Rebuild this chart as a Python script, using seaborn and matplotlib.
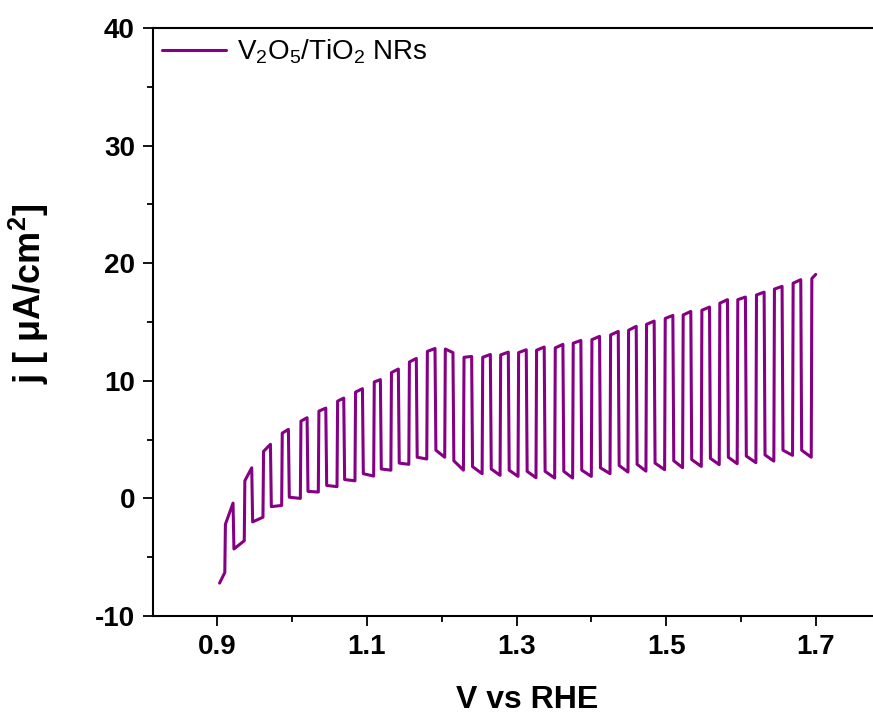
import numpy as np
import pandas as pd
import seaborn as sns
from matplotlib import pyplot as plt

# chopped-light LSV, values
# start of the scan (before the first light pulse)
v_start = [0.903]
j_start = [-7.2]

# potential where the light is switched on / off for each pulse
v_on = [0.910, 0.936, 0.961, 0.986, 1.011, 1.035, 1.060, 1.084, 1.109, 1.132,
        1.156, 1.180, 1.204, 1.229, 1.254, 1.278, 1.302, 1.326, 1.351, 1.375,
        1.400, 1.425, 1.449, 1.473, 1.498, 1.522, 1.547, 1.571, 1.595, 1.620,
        1.644, 1.669, 1.694]
v_off = [0.921, 0.946, 0.971, 0.995, 1.020, 1.045, 1.069, 1.094, 1.118, 1.142,
         1.166, 1.191, 1.215, 1.240, 1.265, 1.289, 1.313, 1.337, 1.362, 1.386,
         1.411, 1.436, 1.460, 1.484, 1.509, 1.533, 1.558, 1.582, 1.606, 1.631,
         1.655, 1.680, 1.700]

# dark current just before light on
j_dark_pre = [-6.3, -3.6, -1.6, -0.6, 0.0, 0.54, 1.0, 1.5, 1.9, 2.4,
              2.9, 3.35, 3.5, 2.4, 2.1, 1.96, 1.87, 1.76, 1.73, 1.73,
              1.87, 2.1, 2.24, 2.32, 2.44, 2.61, 2.72, 2.87, 2.95, 3.04,
              3.17, 3.66, 3.5]
# photocurrent right after light on / right before light off
j_light_on = [-2.2, 1.5, 4.0, 5.55, 6.57, 7.42, 8.27, 9.04, 9.9, 10.7,
              11.6, 12.5, 12.7, 12.0, 12.0, 12.2, 12.4, 12.6, 12.8, 13.2,
              13.5, 13.9, 14.3, 14.8, 15.3, 15.6, 16.0, 16.6, 16.9, 17.3,
              17.8, 18.3, 18.7]
j_light_off = [-0.4, 2.6, 4.6, 5.87, 6.86, 7.68, 8.53, 9.33, 10.1, 11.0,
               11.9, 12.75, 12.4, 12.07, 12.24, 12.44, 12.64, 12.87, 13.1, 13.43,
               13.78, 14.2, 14.63, 15.08, 15.56, 15.9, 16.27, 16.9, 17.12, 17.54,
               18.03, 18.6, 19.05]
# dark current right after light off (last pulse ends the scan)
j_dark_post = [-4.3, -2.0, -0.7, 0.1, 0.6, 1.1, 1.6, 2.1, 2.5, 3.0,
               3.5, 4.1, 3.2, 2.7, 2.5, 2.4, 2.3, 2.3, 2.3, 2.4,
               2.6, 2.8, 2.9, 3.0, 3.2, 3.3, 3.4, 3.5, 3.6, 3.7,
               4.1, 4.1, np.nan]

rise = 0.0008
fall = 0.0012

vs, js = list(v_start), list(j_start)
for i in range(len(v_on)):
    vs += [v_on[i], v_on[i] + rise, v_off[i]]
    js += [j_dark_pre[i], j_light_on[i], j_light_off[i]]
    if not np.isnan(j_dark_post[i]):
        vs.append(v_off[i] + fall)
        js.append(j_dark_post[i])

df = pd.DataFrame({'V': vs, 'j': js})

sns.set_style("ticks")
plt.rcParams['font.family'] = ['Liberation Sans', 'DejaVu Sans']
plt.rcParams['mathtext.fontset'] = 'custom'
plt.rcParams['mathtext.rm'] = 'Liberation Sans'
plt.rcParams['mathtext.bf'] = 'Liberation Sans:bold'
plt.rcParams['axes.unicode_minus'] = False
for k in ['text.color', 'axes.labelcolor', 'xtick.color', 'ytick.color', 'axes.edgecolor']:
    plt.rcParams[k] = 'black'

fig = plt.figure(figsize=(8.73, 7.18), dpi=100)
ax = fig.add_axes([153 / 873, 102 / 718, 748 / 873, 588 / 718])

sns.lineplot(data=df, x='V', y='j', sort=False, estimator=None, ax=ax,
             color='#850085', linewidth=2.2, label=r'V$_2$O$_5$/TiO$_2$ NRs')

ax.set_xlim(0.814, 1.814)
ax.set_ylim(-10, 40)
ax.set_xticks([0.9, 1.1, 1.3, 1.5, 1.7])
ax.set_xticks([1.0, 1.2, 1.4, 1.6, 1.8], minor=True)
ax.set_yticks([-10, 0, 10, 20, 30, 40])
ax.set_yticks([-5, 5, 15, 25, 35], minor=True)
ax.tick_params(axis='both', which='major', length=7, width=1.3, labelsize=20,
               direction='out', pad=6)
ax.tick_params(axis='both', which='minor', length=4, width=1.3, direction='out')
for lab in ax.get_xticklabels() + ax.get_yticklabels():
    lab.set_fontweight('bold')
for s in ax.spines.values():
    s.set_linewidth(1.5)

ax.set_xlabel('V vs RHE', fontsize=23, fontweight='bold', labelpad=18)
ax.set_ylabel(r'j [ μA/cm$^\mathbf{2}$]', fontsize=26, fontweight='bold')
ax.yaxis.set_label_coords(-0.136, 0.548)

plt.legend(loc='upper left', frameon=False, fontsize=20, handlelength=2.3,
           handletextpad=0.4, borderaxespad=0.2, bbox_to_anchor=(-0.01, 1.012))

plt.savefig('out.png', dpi=100)
